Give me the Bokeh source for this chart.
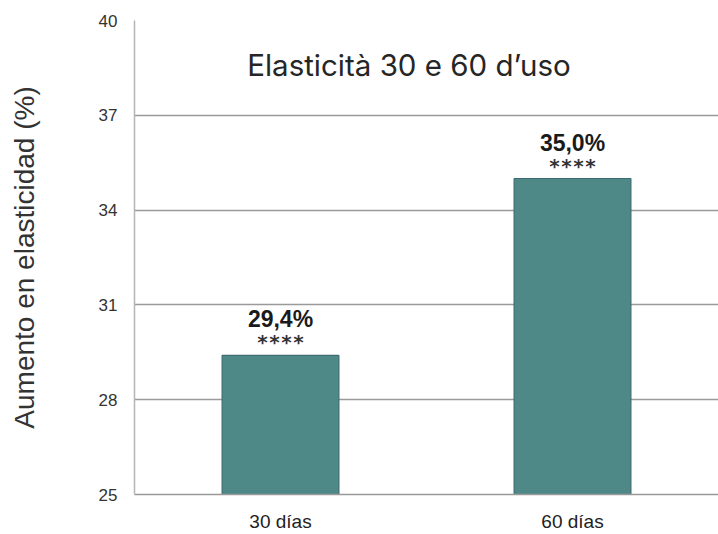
from bokeh.plotting import figure
from bokeh.models import Range1d, FactorRange, FixedTicker, Label, ColumnDataSource
from bokeh.core.properties import value
from bokeh.embed import file_html
from bokeh.resources import INLINE

categories = ["30 días", "60 días"]
values = [29.4, 35.0]
value_labels = ["29,4%", "35,0%"]
stars = ["****", "****"]
y_ticks = [25, 28, 31, 34, 37, 40]
title_text = "Elasticità 30 e 60 d\u2019uso"
y_label = "Aumento en elasticidad (%)"

src = ColumnDataSource(dict(cat=categories, val=values, lab=value_labels, st=stars))

p = figure(x_range=FactorRange(*categories, range_padding=0), y_range=Range1d(25, 40),
           width=718, height=534, output_backend="svg", toolbar_location=None,
           min_border_left=134, min_border_right=0, min_border_top=20, min_border_bottom=40)
p.outline_line_color = None
p.background_fill_color = "white"

p.vbar(x="cat", top="val", bottom=25, width=0.4, source=src,
       fill_color="#4e8988", line_color="#3d6d73", line_width=1.2)

p.text(x="cat", y="val", text="lab", source=src, y_offset=-36,
       text_align="center", text_baseline="middle",
       text_font=value("Liberation Sans"), text_font_style="bold",
       text_font_size="23px", text_color="#1a1a1a")
p.text(x="cat", y="val", text="st", source=src, y_offset=-13,
       text_align="center", text_baseline="middle",
       text_font=value("DejaVu Sans Mono"), text_font_style="bold",
       text_font_size="20px", text_color="#333333")

p.add_layout(Label(x=0.94, y=38.58, text=title_text, text_align="center",
                   text_baseline="middle", text_font="Inter", text_font_size="29.5px",
                   text_color="#262626"))

p.yaxis.ticker = FixedTicker(ticks=y_ticks)
p.yaxis.axis_line_color = "#b5b5b5"
p.yaxis.axis_line_width = 1.5
p.yaxis.major_tick_line_color = None
p.yaxis.minor_tick_line_color = None
p.yaxis.major_label_standoff = 11
p.yaxis.major_label_text_font = "Liberation Sans"
p.yaxis.major_label_text_font_size = "17px"
p.yaxis.major_label_text_color = "#333333"
p.yaxis.axis_label = y_label
p.yaxis.axis_label_text_font = "Liberation Sans"
p.yaxis.axis_label_text_font_style = "normal"
p.yaxis.axis_label_text_font_size = "28px"
p.yaxis.axis_label_text_color = "#333333"
p.yaxis.axis_label_standoff = 56

p.xaxis.axis_line_color = "#999999"
p.xaxis.axis_line_width = 1.5
p.xaxis.major_tick_line_color = None
p.xaxis.minor_tick_line_color = None
p.xaxis.major_label_standoff = 10
p.xaxis.major_label_text_font = "Liberation Sans"
p.xaxis.major_label_text_font_size = "19px"
p.xaxis.major_label_text_color = "#222222"

p.xgrid.grid_line_color = None
p.ygrid.grid_line_color = "#9a9a9a"
p.ygrid.grid_line_width = 1.5

open("out.html", "w").write(file_html(p, INLINE))
